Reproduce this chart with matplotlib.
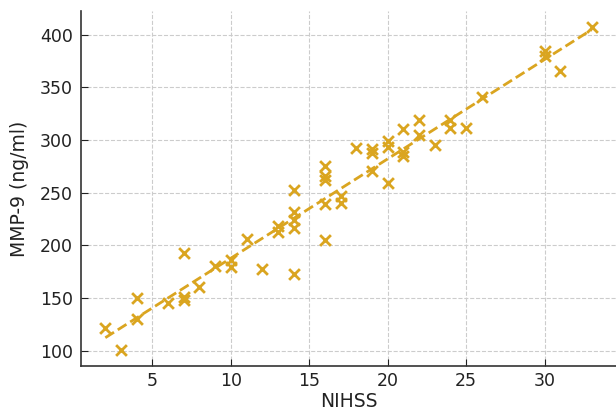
import matplotlib
matplotlib.use("Agg")
import matplotlib.pyplot as plt
import numpy as np

nihss = [2, 3, 4, 4, 6, 7, 7, 7, 8, 9, 10, 10, 11, 12, 13, 13,
         14, 14, 14, 14, 14, 16, 16, 16, 16, 16, 17, 17, 18,
         19, 19, 19, 20, 20, 20, 21, 21, 21, 22, 22, 23, 24, 24,
         25, 26, 30, 30, 31, 33]
mmp9 = [122, 101, 150, 130, 145, 193, 151, 148, 161, 181, 186, 180, 206, 178, 218, 213,
        253, 232, 224, 217, 173, 275, 266, 262, 239, 205, 247, 240, 292,
        291, 288, 271, 299, 293, 259, 310, 289, 285, 319, 305, 295, 319, 311,
        311, 341, 384, 380, 365, 407]

color = '#DAA520'

fig = plt.figure(figsize=(6.16, 4.15), dpi=100)
ax = fig.add_axes([0.1315, 0.118, 0.8685, 0.8555])

x = np.array(nihss, dtype=float)
y = np.array(mmp9, dtype=float)
ax.scatter(x, y, marker='x', s=60, color=color, linewidths=2, zorder=3)

m, b = np.polyfit(x, y, 1)
xs = np.array([x.min(), x.max()])
ax.plot(xs, m * xs + b, '--', color=color, lw=2, zorder=2)

ax.grid(True, linestyle='--', color='#cccccc', linewidth=0.8)
ax.set_axisbelow(True)
for s in ['top', 'right']:
    ax.spines[s].set_visible(False)
for s in ['left', 'bottom']:
    ax.spines[s].set_color('#333333')
    ax.spines[s].set_linewidth(1.2)

ax.set_xticks([5, 10, 15, 20, 25, 30])
ax.set_yticks([100, 150, 200, 250, 300, 350, 400])
ax.tick_params(axis='y', direction='in', labelsize=12.5, colors='#222222', length=5, pad=6)
ax.tick_params(axis='x', direction='in', labelsize=12.5, colors='#222222', length=5, pad=4)
ax.set_xlabel('NIHSS', fontsize=13.5, color='#222222', labelpad=2)
ax.set_ylabel('MMP-9 (ng/ml)', fontsize=13.5, color='#222222', labelpad=8)

fig.savefig('out.png', dpi=100)
